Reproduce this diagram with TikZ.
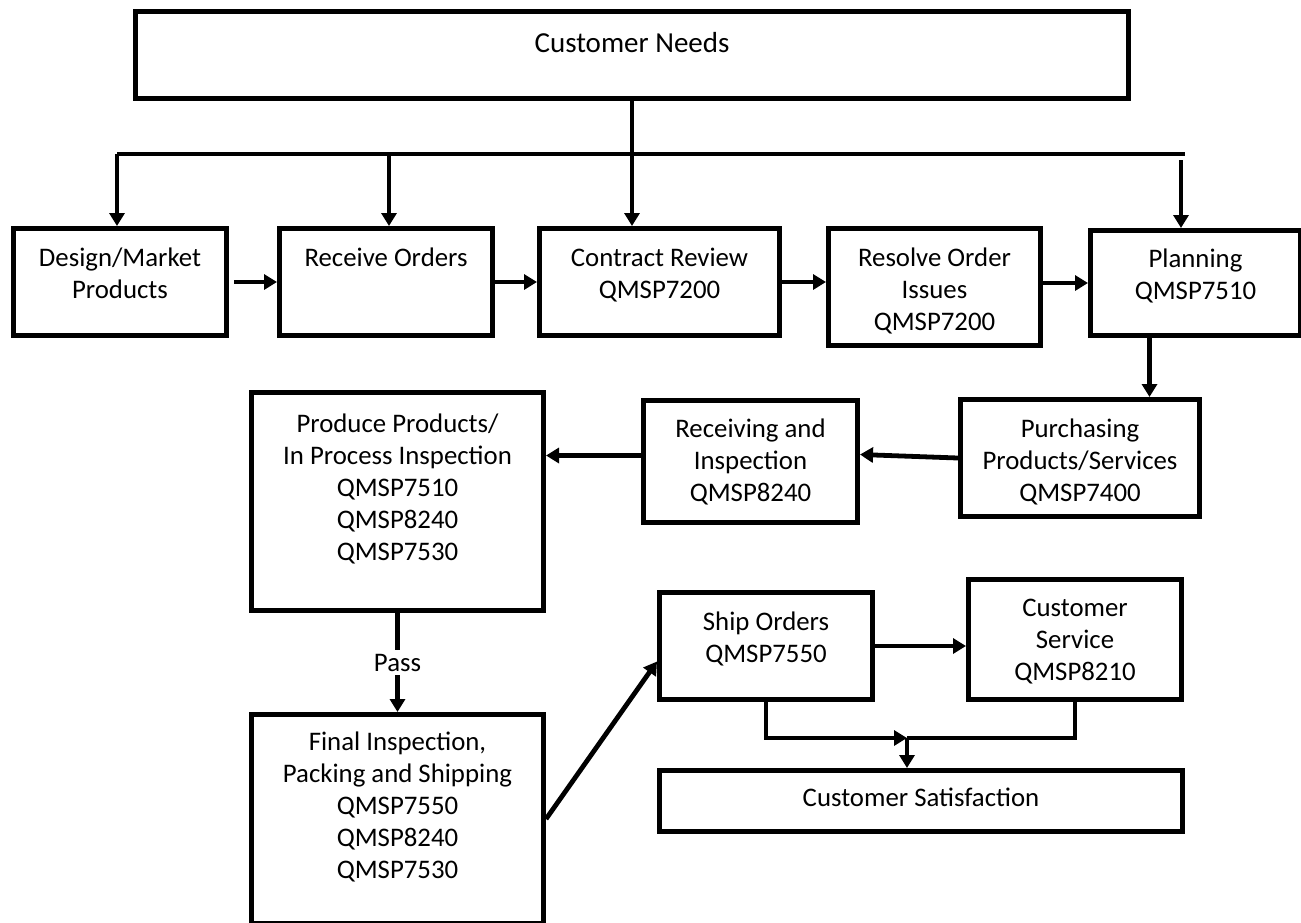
\documentclass[tikz,border=0pt]{standalone}
\usepackage{fontspec}
\setmainfont{Carlito}
\usetikzlibrary{arrows.meta}
\newcommand{\boxtext}[1]{\begin{tabular}[t]{@{}c@{}}#1\end{tabular}}

\tikzset{
  blk/.style={draw, line width=2.5pt, anchor=north west, inner sep=0pt,
    text height=19pt, font=\fontsize{13.4}{16}\selectfont},
  ln/.style={line width=2.4pt},
  arr/.style={ln, -{Triangle[length=6.5pt,width=7.5pt]}},
}

\begin{document}
\begin{tikzpicture}[x=0.5pt, y=-0.5pt]
		\useasboundingbox (0,0) rectangle (1301,922);
		
		%%%%% BOXES %%%%%
		\node[blk, minimum width=496.5pt, text height=20.5pt, text depth=23pt, font=\fontsize{14.5}{16}\selectfont] (needs) at (133,9) {\boxtext{Customer Needs}};
		
		\node[blk, minimum width=106.5pt, text depth=34.5pt] (design) at (11,226) {\boxtext{Design/Market\\Products}};
		\node[blk, minimum width=106.5pt, text depth=34.5pt] (recv) at (277,226) {\boxtext{Receive Orders}};
		\node[blk, minimum width=120pt, text depth=34.5pt] (contract) at (537,226) {\boxtext{Contract Review\\QMSP7200}};
		\node[blk, minimum width=106pt, text depth=39.5pt] (resolve) at (826,226) {\boxtext{Resolve Order\\Issues\\QMSP7200}};
		\node[blk, minimum width=105pt, text height=18.5pt, text depth=34pt] (plan) at (1088,228) {\boxtext{Planning\\QMSP7510}};
		
		\node[blk, minimum width=119.5pt, text depth=39.5pt] (purch) at (958,397) {\boxtext{Purchasing\\Products/Services\\QMSP7400}};
		\node[blk, minimum width=107pt, text height=18.5pt, text depth=42.5pt] (rcvinsp) at (641,398) {\boxtext{Receiving and\\Inspection\\QMSP8240}};
		\node[blk, minimum width=146pt, text height=20pt, text depth=89pt] (produce) at (249,390) {\boxtext{Produce Products/\\In Process Inspection\\QMSP7510\\QMSP8240\\QMSP7530}};
		
		\node[blk, minimum width=146pt, text height=18pt, text depth=86.5pt] (final) at (249,712) {\boxtext{Final Inspection,\\Packing and Shipping\\QMSP7550\\QMSP8240\\QMSP7530}};
		\node[blk, minimum width=106.5pt, text depth=34.5pt] (ship) at (657,590) {\boxtext{Ship Orders\\QMSP7550}};
		\node[blk, minimum width=106.5pt, text height=18.5pt, text depth=41.5pt] (custsvc) at (966,577) {\boxtext{Customer\\Service\\QMSP8210}};
		\node[blk, minimum width=261.5pt, text height=18pt, text depth=12.5pt] (satis) at (657,768) {\boxtext{Customer Satisfaction}};
		
		%%%%% BRANCH BAR %%%%%
		\coordinate (barL) at (117,154);
		\coordinate (barR) at (1185,154);
		\coordinate (b2) at (389,154);
		\coordinate (b4) at (1181,160);
		\draw[ln] (barL) -- (barR);
		
		\draw[arr] (needs.south) -- (needs.south |- contract.north);
		\draw[arr] (barL) -- (barL |- design.north);
		\draw[arr] (b2) -- (b2 |- recv.north);
		\draw[arr] (b4) -- (b4 |- plan.north);
		
		%%%%% FLOW %%%%%
		\draw[arr, shorten <=2.5pt] (design.east) -- (recv.west);
		\draw[arr] (recv.east) -- (contract.west);
		\draw[arr] (contract.east) -- (contract.east -| resolve.west);
		\draw[arr] (resolve.east |- plan.west) -- (plan.west);
		\draw[arr] ([xshift=-23pt]plan.south) -- ([xshift=-23pt]plan.south |- purch.north);
		\draw[arr] (purch.west) -- ([yshift=3.5pt]rcvinsp.east);
		\draw[arr] ([yshift=3pt]rcvinsp.west) -- ([yshift=3pt]rcvinsp.west -| produce.east);
		\draw[arr] (produce.south) -- node[midway, fill=white, inner sep=2pt, font=\fontsize{13.4}{16}\selectfont] (pass) {Pass} (final.north);
		
		\draw[arr] (final.east) -- ([yshift=-7.75pt]ship.west);
		\draw[arr] (ship.east) -- (ship.east -| custsvc.west);
		
		\coordinate (jn) at (907,738);
		\draw[arr] (ship.south) |- (jn);
		\draw[ln] (custsvc.south) |- (jn);
		\draw[arr] (jn) -- (jn |- satis.north);
		
	\end{tikzpicture}
\end{document}
